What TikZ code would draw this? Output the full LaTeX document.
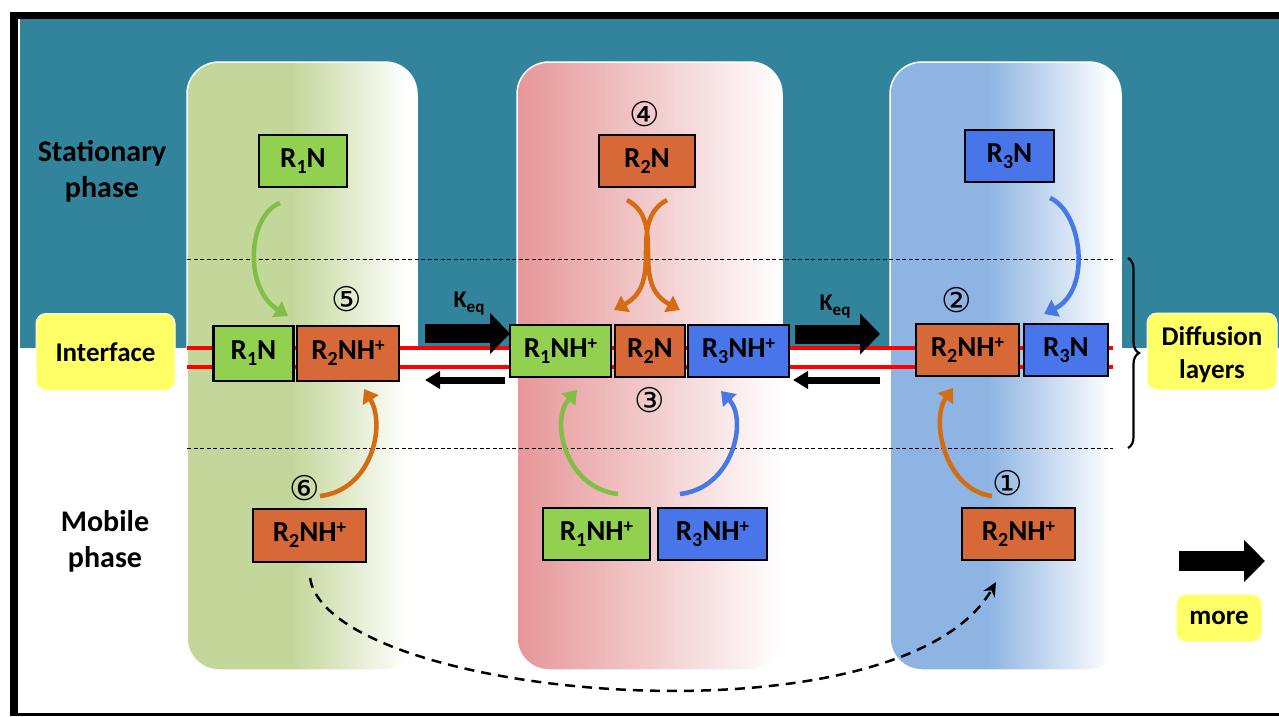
\documentclass[tikz,border=0pt]{standalone}
\usepackage{fontspec}
\setmainfont{Carlito}
\newfontfamily\circfont{DejaVu Sans}
\usetikzlibrary{arrows.meta,decorations.pathreplacing}
\definecolor{tealbg}{RGB}{49,132,155}
\definecolor{pgreen}{RGB}{196,215,155}
\definecolor{ppink}{RGB}{230,150,152}
\definecolor{pblue}{RGB}{141,180,226}
\definecolor{boxgreen}{RGB}{146,208,80}
\definecolor{boxorange}{RGB}{215,105,56}
\definecolor{boxblue}{RGB}{72,117,234}
\definecolor{labyellow}{RGB}{255,255,102}
\definecolor{arrgreen}{RGB}{128,190,70}
\definecolor{arrorange}{RGB}{214,108,18}
\definecolor{arrblue}{RGB}{70,120,230}
\pgfdeclarehorizontalshading{gfade}{100bp}{color(0bp)=(pgreen); color(25bp)=(pgreen); color(48bp)=(pgreen); color(73bp)=(white); color(100bp)=(white)}
\pgfdeclarehorizontalshading{pfade}{100bp}{color(0bp)=(ppink); color(25bp)=(ppink); color(75bp)=(white); color(100bp)=(white)}
\pgfdeclarehorizontalshading{bfade}{100bp}{color(0bp)=(pblue); color(25bp)=(pblue); color(46bp)=(pblue); color(73bp)=(white); color(100bp)=(white)}
\newcommand\bxfont{\bfseries\fontsize{29}{30}\selectfont}
\newcommand\lbfont{\bfseries\fontsize{27}{33}\selectfont}
\newcommand\phfont{\bfseries\fontsize{30}{36}\selectfont}
\newcommand\rs[1]{\raisebox{-6pt}{\fontsize{20}{20}\selectfont #1}}
\newcommand\rp{\raisebox{8pt}{\fontsize{19}{19}\selectfont +}}
\begin{document}
\begin{tikzpicture}[x=1pt,y=-1pt,
  mbox/.style={draw=black,line width=2.2pt,inner sep=0pt,font=\bxfont,text=black},
  gbox/.style={mbox,fill=boxgreen},
  obox/.style={mbox,fill=boxorange},
  bbox/.style={mbox,fill=boxblue},
  ylab/.style={fill=labyellow,draw=white,line width=1pt,rounded corners=10pt,font=\lbfont,align=center,inner sep=0pt},
  circnum/.style={font=\circfont\fontsize{34}{34}\selectfont,inner sep=0pt},
  panel/.style={draw=white,line width=1.5pt,rounded corners=32pt},
  layer/.style={black,line width=1pt,dash pattern=on 4pt off 2.5pt},
  redline/.style={red,line width=4pt},
  ribbon/.style={line width=4.5pt,-{Triangle[length=13pt,width=18pt]}},
  bigarrow/.style={line width=19pt,-{Triangle[length=20pt,width=40pt]}},
  backarrow/.style={line width=7pt,-{Triangle[length=15pt,width=17pt]}},
  keqlab/.style={font=\bfseries\fontsize{24}{24}\selectfont,inner sep=0pt},
  transfer/.style={line width=2.5pt,dash pattern=on 10pt off 7pt,-{Stealth[length=14pt,width=13pt]}}
]
\useasboundingbox (0,0) rectangle (1279,716);
\fill[white] (0,0) rectangle (1279,716);
\fill[tealbg] (20,19) rectangle (1279,348);
% frame
\fill[black] (10,12) rectangle (1279,19);
\fill[black] (10,12) rectangle (18,716);
\fill[black] (10,713) rectangle (1279,716);
% panels
\shadedraw[shading=gfade,panel] (187,62) rectangle (417,670);
\shadedraw[shading=pfade,panel] (517,62) rectangle (782,670);
\shadedraw[shading=bfade,panel] (890,62) rectangle (1121,670);
% diffusion layer limits and interface
\draw[layer] (187,259) -- (1113,259);
\draw[layer] (187,448) -- (1113,448);
\draw[redline] (187,348) -- (1113,348);
\draw[redline] (187,367) -- (1113,367);
\draw[decorate,decoration={brace,amplitude=11pt},line width=2.2pt] (1128,258) -- (1128,448);
% side labels
\node[font=\phfont,align=center,inner sep=0pt] (stat) at (102,171) {Stationary\\phase};
\node[font=\phfont,align=center,inner sep=0pt] (mob) at (105,541) {Mobile\\phase};
\node[ylab,minimum width=139pt,minimum height=77pt] (iface) at (105.5,352) {Interface};
\node[ylab,minimum width=130pt,minimum height=77pt] (diff) at (1212,351.5) {};
\node[font=\lbfont,align=center,inner sep=0pt] (difftxt) at (1212,355) {Diffusion\\layers};
\node[ylab,minimum width=86pt,minimum height=48pt] (more) at (1219,618) {more};
% boxes top
\node[gbox,minimum width=88pt,minimum height=52pt] (r1nT) at (303,161) {R\rs{1}N};
\node[obox,minimum width=96pt,minimum height=52pt] (r2nT) at (647,161) {R\rs{2}N};
\node[bbox,minimum width=89pt,minimum height=52pt] (r3nT) at (1009.5,156) {R\rs{3}N};
% interface boxes
\node[gbox,minimum width=80pt,minimum height=55pt] (r1nI) at (253.5,353.5) {R\rs{1}N};
\node[obox,minimum width=102pt,minimum height=55pt] (r2nhI) at (348,353.5) {R\rs{2}NH\rp};
\node[gbox,minimum width=101pt,minimum height=52pt] (r1nhM) at (560.5,351) {R\rs{1}NH\rp};
\node[obox,minimum width=70pt,minimum height=52pt] (r2nM) at (650,351) {R\rs{2}N};
\node[bbox,minimum width=101pt,minimum height=52pt] (r3nhM) at (738.5,351) {R\rs{3}NH\rp};
\node[obox,minimum width=103pt,minimum height=52pt] (r2nhR) at (967.5,350) {R\rs{2}NH\rp};
\node[bbox,minimum width=84pt,minimum height=52pt] (r3nR) at (1066,350) {R\rs{3}N};
% mobile phase boxes
\node[obox,minimum width=113pt,minimum height=53pt] (r2nhB1) at (309.5,535.5) {R\rs{2}NH\rp};
\node[gbox,minimum width=107pt,minimum height=52pt] (r1nhB) at (596.5,534) {R\rs{1}NH\rp};
\node[bbox,minimum width=109pt,minimum height=52pt] (r3nhB) at (712.5,534) {R\rs{3}NH\rp};
\node[obox,minimum width=113pt,minimum height=52pt] (r2nhB2) at (1018.5,534) {R\rs{2}NH\rp};
% circled numbers
\node[circnum] (n4) at (645,114) {④};
\node[circnum] (n5) at (347,299) {⑤};
\node[circnum] (n3) at (650,400) {③};
\node[circnum] (n2) at (957,300) {②};
\node[circnum] (n6) at (305,488) {⑥};
\node[circnum] (n1) at (1008,483) {①};
% Keq arrows
\coordinate (k1s) at (425,333.5);
\coordinate (k1e) at (510,333.5);
\draw[bigarrow] (k1s) -- (k1e);
\node[keqlab] (keq1) at (469,304) {K\raisebox{-5pt}{\fontsize{17}{17}\selectfont eq}};
\coordinate (k2s) at (795,334);
\coordinate (k2e) at (880,334);
\draw[bigarrow] (k2s) -- (k2e);
\node[keqlab] (keq2) at (835,307) {K\raisebox{-5pt}{\fontsize{17}{17}\selectfont eq}};
\coordinate (b1s) at (505,380);
\coordinate (b1e) at (425,380);
\draw[backarrow] (b1s) -- (b1e);
\coordinate (b2s) at (880,380);
\coordinate (b2e) at (793,380);
\draw[backarrow] (b2s) -- (b2e);
% more arrow
\coordinate (m1) at (1179,561);
\coordinate (m2) at (1265,561);
\draw[line width=20pt,-{Triangle[length=21pt,width=41pt]}] (m1) -- (m2);
% curved ribbon arrows
\coordinate (ga1) at (280,203);
\coordinate (ga2) at (288,316);
\draw[ribbon,arrgreen] (ga1) .. controls (248,215) and (243,288) .. (ga2);
\coordinate (oa1) at (320,496);
\coordinate (oa2) at (364,389);
\draw[ribbon,arrorange] (oa1) .. controls (372,490) and (386,425) .. (oa2);
\coordinate (xa1) at (627,200);
\coordinate (xa2) at (680,310);
\coordinate (xb1) at (667,200);
\coordinate (xb2) at (614,310);
\draw[ribbon,arrorange] (xa1) .. controls (668,222) and (628,282) .. (xa2);
\draw[ribbon,arrorange] (xb1) .. controls (626,222) and (666,282) .. (xb2);
\coordinate (gm1) at (618,494);
\coordinate (gm2) at (577,390);
\draw[ribbon,arrgreen] (gm1) .. controls (565,488) and (550,420) .. (gm2);
\coordinate (bm1) at (680,494);
\coordinate (bm2) at (721,391);
\draw[ribbon,arrblue] (bm1) .. controls (733,488) and (748,420) .. (bm2);
\coordinate (br1) at (1050,198);
\coordinate (br2) at (1044,314);
\draw[ribbon,arrblue] (br1) .. controls (1082,212) and (1092,290) .. (br2);
\coordinate (or1) at (992,496);
\coordinate (or2) at (953,388);
\draw[ribbon,arrorange] (or1) .. controls (945,490) and (930,420) .. (or2);
% transfer to next column
\coordinate (d1) at (310,578);
\coordinate (d2) at (996,582);
\draw[transfer] (d1) .. controls (330,700) and (900,750) .. (d2);
\end{tikzpicture}
\end{document}
